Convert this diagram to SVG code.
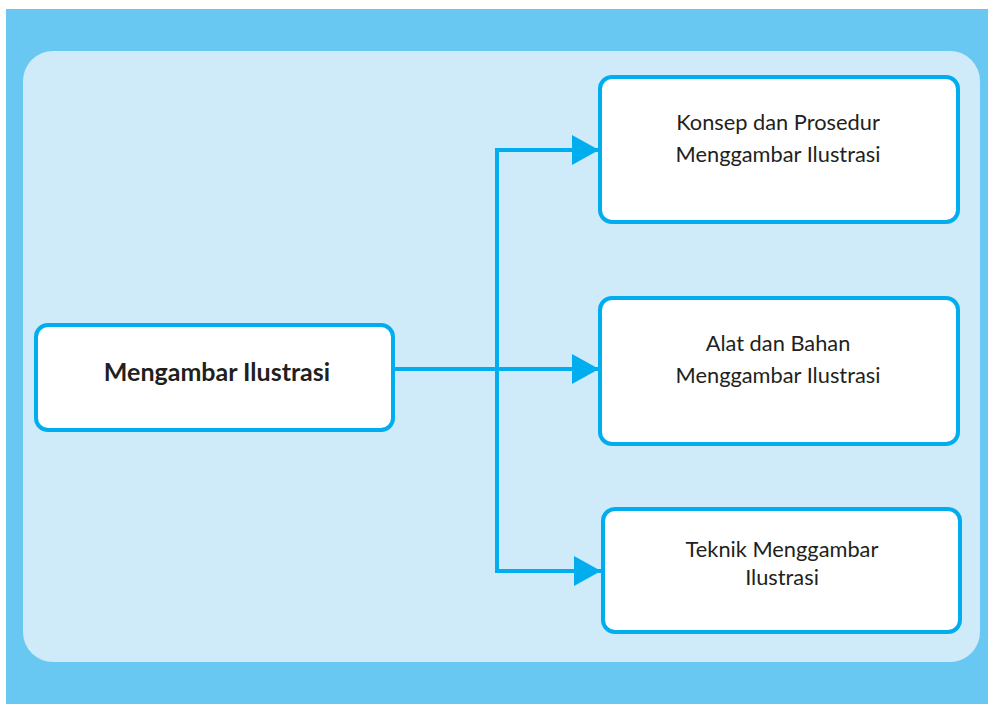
<svg xmlns="http://www.w3.org/2000/svg" width="988" height="706" viewBox="0 0 988 706">
<defs>
<style>
.box{fill:#FFFFFF;stroke:#00AEEF;stroke-width:4}
.lbl{font-family:Lato,"Open Sans","Liberation Sans",sans-serif;font-size:21.8px;fill:#231F20;text-anchor:middle}
.bold{font-weight:bold;font-size:25px}
.conn{fill:none;stroke:#00AEEF;stroke-width:4}
</style>
<marker id="arr" viewBox="0 0 27 30" refX="27" refY="15" markerWidth="27" markerHeight="30" markerUnits="userSpaceOnUse" orient="auto">
<path d="M0,0 L27,15 L0,30 Z" fill="#00AEEF"/>
</marker>
</defs>
<rect x="6" y="9" width="982" height="695" fill="#69C8F2"/>
<rect x="23" y="51" width="957" height="611" rx="30" ry="30" fill="#CFEAF8"/>
<g id="connectors">
<path class="conn" d="M395,369 H599" marker-end="url(#arr)"/>
<path class="conn" d="M497,150 H599" marker-end="url(#arr)"/>
<path class="conn" d="M497,571 H601" marker-end="url(#arr)"/>
<path class="conn" d="M497,148 V573"/>
</g>
<g id="main">
<rect class="box" x="36" y="325" width="357" height="105" rx="12"/>
<text class="lbl bold" x="217" y="381">Mengambar Ilustrasi</text>
</g>
<g id="konsep">
<rect class="box" x="600" y="77" width="358" height="145" rx="12"/>
<text class="lbl" x="778" y="130">Konsep dan Prosedur</text>
<text class="lbl" x="778" y="162">Menggambar Ilustrasi</text>
</g>
<g id="alat">
<rect class="box" x="600" y="298" width="358" height="146" rx="12"/>
<text class="lbl" x="778" y="351">Alat dan Bahan</text>
<text class="lbl" x="778" y="383">Menggambar Ilustrasi</text>
</g>
<g id="teknik">
<rect class="box" x="603" y="509" width="357" height="123" rx="12"/>
<text class="lbl" x="782" y="557">Teknik Menggambar</text>
<text class="lbl" x="782" y="585">Ilustrasi</text>
</g>
</svg>
